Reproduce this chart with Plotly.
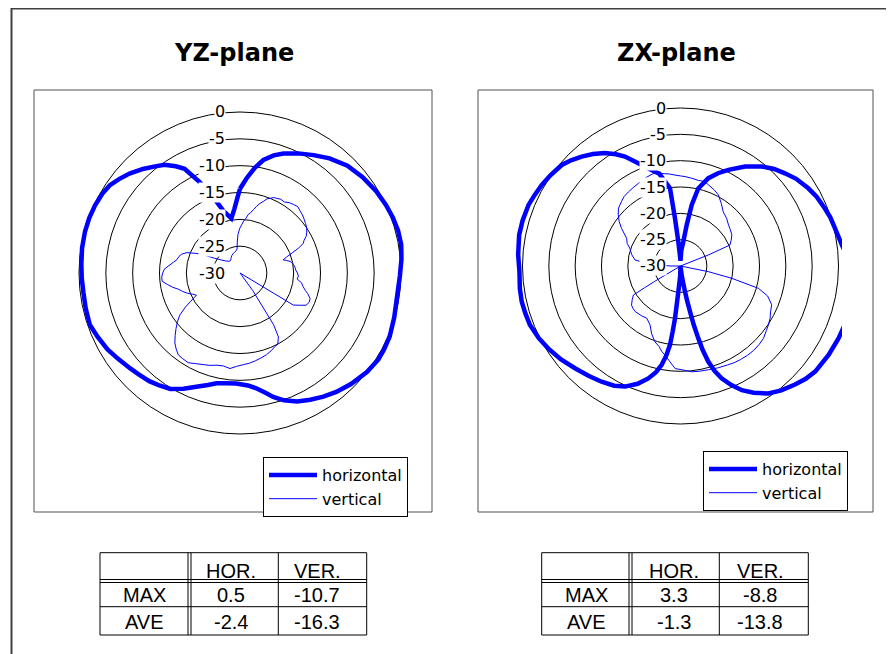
import plotly.graph_objects as go

# ---------------- data (dB vs angle, clockwise from top) ----------------
yz_h_theta = [0, 4, 8, 11.7, 16, 20, 26, 32, 38, 45, 52, 59, 65, 70, 75, 80, 85, 91, 99, 106,
              113, 118, 122, 128, 135, 141, 146, 151, 156, 161, 165, 168, 172, 176, 182, 187,
              192, 196, 201, 206, 211, 216, 220, 225, 229, 235, 240, 246, 251, 257, 263, 268,
              273, 279, 285, 290, 295, 300, 304, 308, 312, 317, 321, 325, 329, 332, 336, 340,
              345, 351, 355, 358]
yz_h_db = [-14.3, -12.3, -10.2, -8.5, -7.2, -6.3, -5.2, -4.1, -2.9, -1.7, -1.0, -0.4, 0.0, 0.3,
           0.5, 0.5, 0.2, -0.2, -0.4, -0.1, 0.3, 0.4, 0.4, 0.0, -0.75, -1.5, -2.2, -3.0, -3.8,
           -4.9, -6.1, -7.2, -8.3, -9.0, -9.4, -9.3, -9.0, -8.3, -7.3, -6.0, -4.8, -4.2, -3.7,
           -3.3, -2.9, -2.2, -1.5, -0.9, -0.4, -0.5, -0.6, -0.5, -0.4, -0.2, -0.1, -0.1, -0.2,
           -0.4, -0.75, -1.5, -2.3, -3.5, -4.5, -5.4, -6.8, -8.0, -11.4, -14.5, -18.0, -19.7,
           -18.0, -16.0]

yz_v_theta = [0, 2, 4, 6, 8, 10, 12, 14, 16, 18, 20, 22, 24, 26, 29, 32, 35, 38, 41, 44, 47, 50,
              53, 56, 59, 61, 63, 65, 67, 69, 71, 73, 75, 77, 79, 81, 84, 87, 90, 93, 96, 99,
              102, 105, 107, 110, 113, 116, 118, 121, 124, 130, 136, 141, 144, 147, 149, 152,
              155, 158, 162, 166, 170, 174, 178, 182, 186, 190, 194, 198, 202, 206, 210, 214,
              217, 220, 223, 226, 229, 232, 235, 238, 240, 243, 246, 249, 252, 255, 258, 261,
              264, 267, 270, 273, 276, 279, 282, 285, 288, 291, 294, 297, 300, 305, 310, 315,
              320, 325, 330, 335, 340, 345, 350, 353, 355, 357, 359]
yz_v_db = [-21.6, -21.0, -20.3, -19.8, -19.0, -18.6, -17.9, -17.2, -16.5, -16.0, -15.3, -15.0,
           -14.6, -14.5, -14.3, -14.4, -14.0, -13.8, -13.6, -13.9, -14.1, -14.4, -14.7, -15.0,
           -15.5, -15.9, -16.6, -17.0, -18.2, -19.6, -20.8, -21.6, -21.0, -20.4, -20.1, -19.9,
           -19.7, -19.6, -19.3, -19.1, -19.3, -18.4, -18.0, -17.4, -16.8, -16.1, -16.0, -16.3,
           -17.2, -18.4, -31, -31, -31, -31, -26, -18.5, -16.1, -15.0, -14.8, -14.4, -14.0,
           -13.7, -13.4, -13.1, -12.9, -12.6, -12.1, -12.4, -12.3, -11.9, -11.6, -11.2, -10.7,
           -10.8, -10.9, -11.5, -12.2, -13.2, -14.2, -15.2, -16.3, -18.0, -19.3, -20.9, -20.3,
           -19.5, -18.8, -18.2, -17.2, -16.3, -15.4, -15.4, -15.6, -15.9, -16.7, -17.4, -18.0,
           -18.2, -18.6, -19.4, -21.0, -22.8, -24.5, -25.8, -26.5, -26.9, -27.1, -27.0, -26.7,
           -26.4, -26.2, -26.0, -25.8, -25.5, -24.2, -22.8, -22.0]

zx_h_theta = [0, 3, 6.6, 8.6, 10.4, 12.9, 17.6, 22, 26.5, 33, 39.3, 44, 48.4, 53, 58.7, 63,
              68.2, 72, 76.3, 82.5, 88, 94, 100, 106, 110, 114.6, 121, 128, 132, 136, 141,
              145.4, 150, 153.7, 157, 159.9, 162, 163.8, 165.2, 166.2, 167.3, 168.2, 169.2,
              170, 172, 175, 178, 182, 184.8, 186, 186.8, 187.6, 189, 190.8, 193, 196, 200,
              204.7, 209, 214.3, 220, 225.9, 232, 238.1, 243, 248.6, 253, 257.3, 262, 268, 274,
              280.9, 286, 291.8, 296, 300.3, 305, 310.4, 314, 317.9, 322, 326.2, 330, 333.1,
              337.7, 342, 347, 352.3, 353.4, 354.9, 357]
zx_h_db = [-29.0, -27.0, -25.3, -22.1, -18.2, -14.9, -12.5, -11.0, -9.6, -7.5, -5.6, -4.4, -3.5,
           -2.5, -1.6, -1.0, -0.5, -0.1, 0.2, 0.9, 2.0, 3.0, 3.3, 3.2, 3.1, 3.0, 2.8, 2.5, 2.0,
           1.3, 0.4, -0.6, -2.2, -3.7, -5.5, -7.3, -9.0, -11.1, -13.5, -15.9, -18.5, -21.1,
           -23.3, -25.1, -27.5, -29.5, -30.0, -28.0, -25.1, -20.0, -17.5, -14.9, -12.8, -10.9,
           -9.3, -7.8, -6.2, -4.8, -4.0, -3.4, -2.8, -2.1, -1.2, -0.4, 0.2, 0.7, 0.8, 0.9, 0.8,
           0.6, 0.9, 1.2, 1.2, 1.1, 0.8, 0.5, 0.1, -0.4, -1.1, -2.0, -3.0, -4.2, -5.5, -6.7,
           -8.9, -10.6, -12.0, -15.1, -20.9, -25.4, -28.0]

zx_v_theta = [0, 3, 7.3, 12, 16, 19, 24, 28, 33, 38.3, 44, 49.4, 54, 58.8, 63, 67, 68.4, 70, 80,
              90, 96, 101.5, 103.5, 106, 109, 113, 117, 120.3, 123.9, 127, 131, 135, 139, 143,
              147.4, 151, 154.6, 160, 165, 170, 174, 178, 183, 186.3, 189, 192.4, 195, 198.6,
              203, 207.3, 212.9, 218, 224.9, 228, 231.4, 235, 238.4, 238.8, 239.2, 241, 250,
              260, 266, 270, 274, 277.5, 283, 289.3, 293, 297.2, 302.6, 306, 309.4, 313, 317.6,
              321, 325, 329, 333, 338, 343.7, 347, 350, 353, 356.5]
zx_v_db = [-12.9, -13.0, -13.2, -13.4, -13.3, -13.7, -14.2, -14.7, -15.8, -16.9, -17.4, -18.0,
           -18.3, -18.6, -19.2, -19.8, -24.3, -32, -32, -32, -30.5, -24.6, -20.0, -14.6, -12.5,
           -11.2, -10.8, -10.3, -9.9, -9.6, -9.1, -8.9, -8.8, -8.8, -8.9, -9.0, -9.2, -9.4,
           -9.6, -9.7, -9.8, -10.2, -10.5, -11.7, -12.6, -13.4, -14.2, -14.8, -16.0, -17.4,
           -18.2, -18.0, -17.8, -17.9, -18.1, -18.8, -19.5, -22.0, -24.3, -32, -32, -32, -31,
           -28.0, -24.0, -21.3, -20.5, -19.8, -19.0, -18.5, -16.7, -15.6, -14.7, -13.9, -13.4,
           -13.0, -12.8, -12.6, -12.4, -12.0, -11.7, -11.9, -12.2, -12.4, -12.7]

ring_ticks = [-30, -25, -20, -15, -10, -5, 0]
plot_titles = ["YZ-plane", "ZX-plane"]
series_names = ["horizontal", "vertical"]
table_header = ["", "HOR.", "VER."]
table_rows = ["MAX", "AVE"]
yz_table = [["0.5", "-10.7"], ["-2.4", "-16.3"]]
zx_table = [["3.3", "-8.8"], ["-1.3", "-13.8"]]

# ---------------- layout helpers ----------------
OFF = 8                      # page body margin of the html page
W, H = 894 - OFF, 654 - OFF  # figure size so that it fits in the window
R_MIN, R_MAX = -30, 3.5
BLUE = "#0000FF"


def fx(x):
    return (x - OFF) / W


def fy(y):
    return 1 - (y - OFF) / H


def closed(theta, r):
    return list(theta) + [theta[0] + 360], list(r) + [r[0]]


def polar_cfg(cx, cy, r0):
    R = r0 * (R_MAX - R_MIN) / (0 - R_MIN)
    return dict(
        domain=dict(x=[fx(cx - R), fx(cx + R)], y=[fy(cy + R), fy(cy - R)]),
        bgcolor="rgba(0,0,0,0)",
        radialaxis=dict(
            range=[R_MIN, R_MAX], tickvals=ring_ticks,
            showline=False, showgrid=True, gridcolor="black", gridwidth=1,
            angle=90, showticklabels=False, ticks="",
            layer="below traces",
        ),
        angularaxis=dict(rotation=90, direction="clockwise", showline=False,
                         showgrid=False, showticklabels=False, ticks=""),
    )


fig = go.Figure()

datasets = [
    ("polar", "legend", (yz_h_theta, yz_h_db), (yz_v_theta, yz_v_db)),
    ("polar2", "legend2", (zx_h_theta, zx_h_db), (zx_v_theta, zx_v_db)),
]
for sub, leg, h, v in datasets:
    th, rr = closed(*h)
    fig.add_trace(go.Scatterpolar(theta=th, r=rr, mode="lines", name=series_names[0],
                                  subplot=sub, legend=leg,
                                  line=dict(color=BLUE, width=4.5)))
    th, rr = closed(*v)
    fig.add_trace(go.Scatterpolar(theta=th, r=rr, mode="lines", name=series_names[1],
                                  subplot=sub, legend=leg,
                                  line=dict(color=BLUE, width=1)))

shapes = []
# outer frame (right and bottom edges fall outside the window)
shapes.append(dict(type="rect", xref="paper", yref="paper", x0=fx(11.5), x1=fx(910),
                   y0=fy(670), y1=fy(8.5), line=dict(color="#404040", width=2)))
# plot boxes
for x0, x1 in [(34, 432), (478, 873)]:
    shapes.append(dict(type="rect", xref="paper", yref="paper", x0=fx(x0), x1=fx(x1),
                       y0=fy(512), y1=fy(90), line=dict(color="#505050", width=1)))
# mask emulating the plot area clipping on the right of ZX
shapes.append(dict(type="rect", xref="paper", yref="paper", x0=fx(842), x1=fx(872),
                   y0=fy(445), y1=fy(100), fillcolor="white", line=dict(width=0),
                   layer="above"))


def hline(x0, x1, y):
    return dict(type="line", xref="paper", yref="paper", x0=fx(x0), x1=fx(x1),
                y0=fy(y), y1=fy(y), line=dict(color="black", width=1))


def vline(x, y0, y1):
    return dict(type="line", xref="paper", yref="paper", x0=fx(x), x1=fx(x),
                y0=fy(y0), y1=fy(y1), line=dict(color="black", width=1))


annotations = []

# ring labels (radial axis tick labels) with white background, as in the original
for cx, cy, r0 in [(240, 273, 161), (680.5, 266, 158)]:
    for t in ring_ticks:
        ry = cy - r0 * (t - R_MIN) / (0 - R_MIN)
        annotations.append(dict(x=fx(cx - 14), y=fy(ry), xref="paper", yref="paper",
                                text=str(t), showarrow=False, xanchor="right",
                                yanchor="middle", bgcolor="white", borderpad=0,
                                font=dict(family="DejaVu Sans", size=16, color="black")))

tables = [
    (yz_table, [100, 188, 278.3, 366.7], [144.7, 231, 317]),
    (zx_table, [541.7, 629, 719.3, 808.3], [586, 674, 760]),
]
ys = [552.7, 579.5, 606.7, 635]
text_y = [571, 595, 622]
TFONT = dict(family="Liberation Sans, Arial", size=20, color="black")
for vals, xs, cxs in tables:
    for y in ys:
        shapes.append(hline(xs[0], xs[3], y))
    shapes.append(hline(xs[0], xs[3], ys[1] + 3))
    for x in xs:
        shapes.append(vline(x, ys[0], ys[3]))
    shapes.append(vline(xs[1] + 3, ys[0], ys[3]))
    for j, t in enumerate(table_header):
        if t:
            annotations.append(dict(x=fx(cxs[j]), y=fy(text_y[0]), xref="paper", yref="paper",
                                    text=t, showarrow=False, font=TFONT,
                                    xanchor="center", yanchor="middle"))
    for i, lab in enumerate(table_rows):
        cells = [lab] + vals[i]
        for j, t in enumerate(cells):
            annotations.append(dict(x=fx(cxs[j]), y=fy(text_y[i + 1]), xref="paper",
                                    yref="paper", text=t, showarrow=False, font=TFONT,
                                    xanchor="center", yanchor="middle"))

for t, cx in zip(plot_titles, [234, 676]):
    annotations.append(dict(x=fx(cx), y=fy(53), xref="paper", yref="paper", text=t,
                            showarrow=False, xanchor="center", yanchor="middle",
                            font=dict(family="DejaVu Sans", size=24, color="black",
                                      weight="bold")))

LEG = dict(bgcolor="white", bordercolor="black", borderwidth=1,
           font=dict(family="DejaVu Sans", size=16, color="black"),
           xanchor="left", yanchor="top", itemwidth=48)

fig.update_layout(
    width=W, height=H, margin=dict(l=0, r=0, t=0, b=0),
    paper_bgcolor="white", plot_bgcolor="white",
    polar=polar_cfg(240, 273, 161),
    polar2=polar_cfg(680.5, 266, 158),
    legend=dict(LEG, x=fx(263), y=fy(457)),
    legend2=dict(LEG, x=fx(703), y=fy(451)),
    shapes=shapes, annotations=annotations,
    showlegend=True,
)

fig.write_html("out.html")
